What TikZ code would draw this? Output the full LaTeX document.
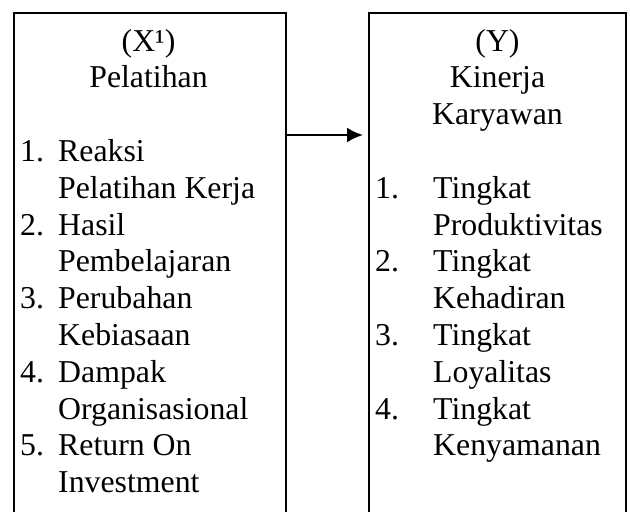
\documentclass[tikz,border=0pt]{standalone}
\usepackage{fontspec}
\setmainfont{Liberation Serif}
\usetikzlibrary{arrows.meta}
\begin{document}
\begin{tikzpicture}[x=1pt,y=-1pt,
  every node/.style={font=\fontsize{31.8}{36.8}\selectfont, inner sep=0pt},
  boxst/.style={draw, line width=2.3pt, minimum width=#1, minimum height=530pt, anchor=north west},
  ctr/.style={anchor=base},
  lft/.style={anchor=base west},
  link/.style={line width=2.3pt, -{Latex[length=16pt,width=15pt]}, shorten >=5pt}]
\useasboundingbox (0,0) rectangle (630,512);
\node[boxst=272pt] (X) at (13,12) {};
\node[boxst=257pt] (Y) at (368,12) {};
\draw[link] ([yshift=-123pt]X.north east) -- ([yshift=-123pt]Y.north west);
% left box
\node[ctr] (xt1) at (148.5,51) {(X¹)};
\node[ctr] (xt2) at (148.5,87.8) {Pelatihan};
\node[lft] (xn1) at (20,161.4) {1.};
\node[lft] (xa1) at (58,161.4) {Reaksi};
\node[lft] (xb1) at (58,198.2) {Pelatihan Kerja};
\node[lft] (xn2) at (20,235) {2.};
\node[lft] (xa2) at (58,235) {Hasil};
\node[lft] (xb2) at (58,271.8) {Pembelajaran};
\node[lft] (xn3) at (20,308.6) {3.};
\node[lft] (xa3) at (58,308.6) {Perubahan};
\node[lft] (xb3) at (58,345.4) {Kebiasaan};
\node[lft] (xn4) at (20,382.2) {4.};
\node[lft] (xa4) at (58,382.2) {Dampak};
\node[lft] (xb4) at (58,419) {Organisasional};
\node[lft] (xn5) at (20,455.8) {5.};
\node[lft] (xa5) at (58,455.8) {Return On};
\node[lft] (xb5) at (58,492.6) {Investment};
% right box
\node[ctr] (yt1) at (497.5,51) {(Y)};
\node[ctr] (yt2) at (497.5,87.8) {Kinerja};
\node[ctr] (yt3) at (497.5,124.6) {Karyawan};
\node[lft] (yn1) at (375,198.2) {1.};
\node[lft] (ya1) at (433,198.2) {Tingkat};
\node[lft] (yb1) at (433,235) {Produktivitas};
\node[lft] (yn2) at (375,271.8) {2.};
\node[lft] (ya2) at (433,271.8) {Tingkat};
\node[lft] (yb2) at (433,308.6) {Kehadiran};
\node[lft] (yn3) at (375,345.4) {3.};
\node[lft] (ya3) at (433,345.4) {Tingkat};
\node[lft] (yb3) at (433,382.2) {Loyalitas};
\node[lft] (yn4) at (375,419) {4.};
\node[lft] (ya4) at (433,419) {Tingkat};
\node[lft] (yb4) at (433,455.8) {Kenyamanan};
\end{tikzpicture}
\end{document}
